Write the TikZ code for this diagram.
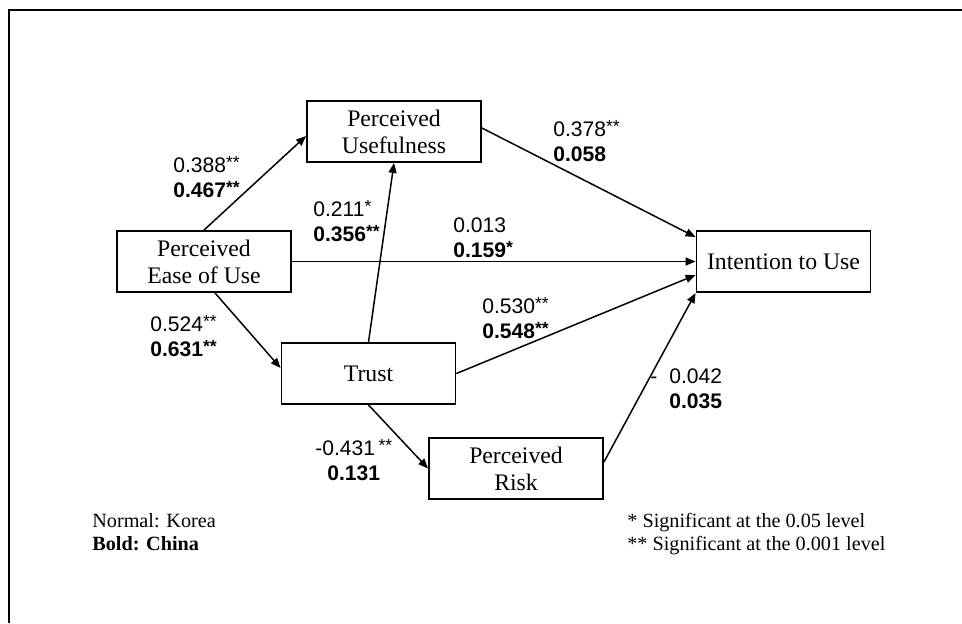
\documentclass[tikz,border=0pt]{standalone}
\usepackage{fontspec}
\setmainfont{Liberation Serif}
\newfontfamily\numfont{Liberation Sans}
\newcommand{\sig}[1]{\raisebox{0.18em}{\fontsize{10}{10}\selectfont #1}}
\usetikzlibrary{arrows.meta}
\begin{document}
\begin{tikzpicture}[x=0.02cm,y=-0.02cm,
  construct/.style={draw,line width=1.1pt,minimum width=3.48cm,minimum height=1.22cm,
    inner sep=0pt,align=center,font=\fontsize{13.5}{15.3}\selectfont},
  path/.style={line width=0.85pt,-{Triangle[length=0.2cm,width=0.16cm]}},
  coef/.style={anchor=base west,inner sep=0pt,align=left,font=\numfont\fontsize{12}{14.2}\selectfont},
  legend/.style={anchor=base west,inner sep=0pt,align=left,font=\fontsize{11.5}{13}\selectfont}]
\useasboundingbox (0,0) rectangle (962,623);
\draw[line width=0.04cm] (9,623) -- (9,10) -- (962,10);
\node[construct] (pu) at (394,131.5) {Perceived\\Usefulness};
\node[construct] (peou) at (204,261.5) {Perceived\\Ease of Use};
\node[construct] (trust) at (368.5,373.5) {Trust};
\node[construct] (risk) at (516,468.5) {Perceived\\Risk};
\node[construct] (iu) at (783.5,261.5) {Intention to Use};
\draw[path] (peou.north) -- ([yshift=-0.09cm]pu.west);
\draw[path] (peou.east) -- (iu.west);
\draw[path] ([xshift=0.22cm]peou.south) -- ([yshift=0.11cm]trust.west);
\draw[path] (trust.north) -- (pu.south);
\draw[path] ([yshift=0.07cm]pu.east) -- ([yshift=-0.14cm]iu.north west);
\draw[path] (trust.east) -- ([yshift=-0.27cm]iu.west);
\draw[path] (trust.south) -- (risk.west);
\draw[path] ([yshift=0.13cm]risk.east) -- (iu.south west);
\node[coef] (c388) at (173,197) {0.388\sig{**}\\\textbf{0.467\sig{**}}};
\node[coef] (c211) at (313,241) {0.211\sig{*}\\\textbf{0.356\sig{**}}};
\node[coef] (c378) at (553,161) {0.378\sig{**}\\\textbf{0.058}};
\node[coef] (c013) at (453,257) {0.013\\\textbf{0.159\sig{*}}};
\node[coef] (c524) at (150,356) {0.524\sig{**}\\\textbf{0.631\sig{**}}};
\node[coef] (c530) at (482,338) {0.530\sig{**}\\\textbf{0.548\sig{**}}};
\node[coef] (c431) at (315,480) {-0.431\,\sig{**}\\\hspace*{0.24cm}\textbf{0.131}};
\node[coef] (c042) at (650,408) {-\hspace{0.24cm}0.042\\\hspace*{0.38cm}\textbf{0.035}};
\node[legend] (country) at (92,550) {Normal: Korea\\\textbf{Bold: China}};
\node[legend] (signif) at (627,550) {* Significant at the 0.05 level\\** Significant at the 0.001 level};
\end{tikzpicture}
\end{document}
